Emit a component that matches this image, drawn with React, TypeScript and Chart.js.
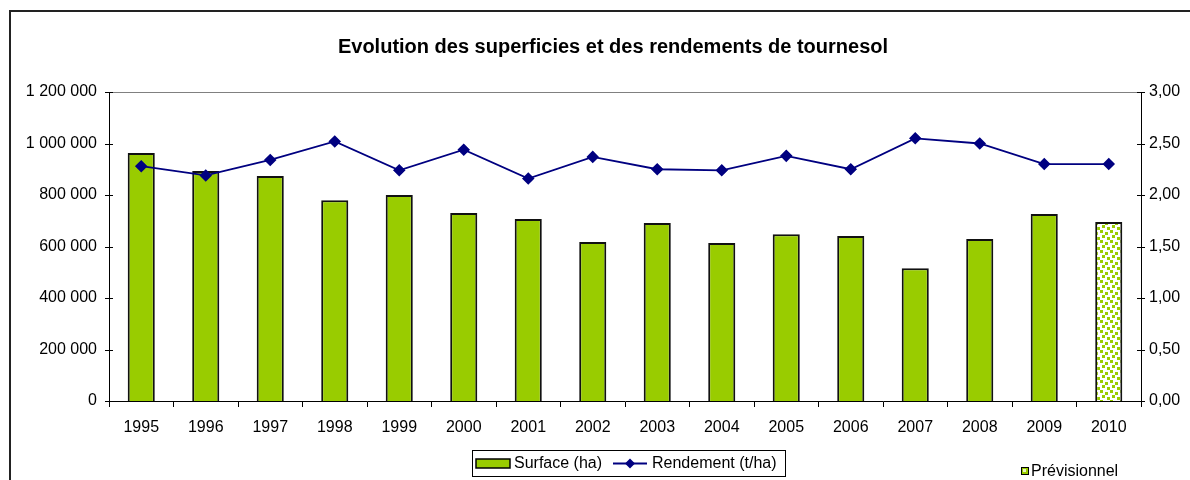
import React, { useEffect, useRef } from "react";
import { Chart, registerables } from "chart.js";

Chart.register(...registerables);

const years = ["1995","1996","1997","1998","1999","2000","2001","2002","2003","2004","2005","2006","2007","2008","2009","2010"];
const surface = [963000, 893000, 874000, 780000, 800000, 730000, 707000, 617000, 691000, 614000, 648000, 641000, 516000, 629000, 726000, 695000];
const rendement = [2.28, 2.19, 2.34, 2.52, 2.24, 2.44, 2.16, 2.37, 2.25, 2.24, 2.38, 2.25, 2.55, 2.50, 2.30, 2.30];
const forecastIndex = 15;
const title = "Evolution des superficies et des rendements de tournesol";
const legendSurface = "Surface (ha)";
const legendRendement = "Rendement (t/ha)";
const legendForecast = "Prévisionnel";

const FONT = "'Liberation Sans', Arial, sans-serif";
const GREEN = "#99cc00";
const NAVY = "#000080";

function makePattern(): CanvasPattern | string {
  const c = document.createElement("canvas");
  c.width = 10;
  c.height = 10;
  const g = c.getContext("2d");
  if (!g) return GREEN;
  g.fillStyle = "#ffffff";
  g.fillRect(0, 0, 10, 10);
  g.fillStyle = GREEN;
  g.fillRect(0, 0, 3, 3);
  g.fillRect(5, 2, 3, 3);
  g.fillRect(2, 5, 3, 3);
  g.fillRect(7, 7, 3, 3);
  const ctx = document.createElement("canvas").getContext("2d");
  return ctx ? (ctx.createPattern(c, "repeat") as CanvasPattern) : GREEN;
}

const fmtThousands = (v: number) =>
  String(Math.round(v)).replace(/\B(?=(\d{3})+(?!\d))/g, " ");

export default function App() {
  const ref = useRef<HTMLCanvasElement | null>(null);

  useEffect(() => {
    if (!ref.current) return;
    const pattern = makePattern();
    const barColors = surface.map((_, i) => (i === forecastIndex ? pattern : GREEN));

    const decor = {
      id: "decor",
      afterDraw(chart: any) {
        const ctx = chart.ctx as CanvasRenderingContext2D;
        const ca = chart.chartArea;
        const yL = chart.scales.y;
        const yR = chart.scales.y1;
        ctx.save();
        ctx.strokeStyle = "#808080";
        ctx.lineWidth = 1;
        ctx.beginPath();
        ctx.moveTo(ca.left, Math.round(ca.top) + 0.5);
        ctx.lineTo(ca.right, Math.round(ca.top) + 0.5);
        ctx.stroke();
        ctx.strokeStyle = "#000";
        yL.ticks.forEach((t: any) => {
          const y = Math.round(yL.getPixelForValue(t.value)) + 0.5;
          ctx.beginPath();
          ctx.moveTo(ca.left - 4, y);
          ctx.lineTo(ca.left + 4, y);
          ctx.stroke();
        });
        yR.ticks.forEach((t: any) => {
          const y = Math.round(yR.getPixelForValue(t.value)) + 0.5;
          ctx.beginPath();
          ctx.moveTo(ca.right - 4, y);
          ctx.lineTo(ca.right + 4, y);
          ctx.stroke();
        });
        // title
        ctx.fillStyle = "#000";
        ctx.font = `bold 20px ${FONT}`;
        ctx.textAlign = "center";
        ctx.textBaseline = "middle";
        ctx.fillText(title, 613, 47);
        // legend box
        ctx.font = `16px ${FONT}`;
        ctx.textAlign = "left";
        ctx.strokeStyle = "#000";
        ctx.lineWidth = 1;
        ctx.strokeRect(472.5, 450.5, 313, 26);
        ctx.fillStyle = GREEN;
        ctx.fillRect(476, 459, 34, 9);
        ctx.lineWidth = 1.5;
        ctx.strokeRect(476, 459, 34, 9);
        ctx.fillStyle = "#000";
        ctx.fillText(legendSurface, 514, 464);
        ctx.strokeStyle = NAVY;
        ctx.lineWidth = 1.8;
        ctx.beginPath();
        ctx.moveTo(613, 463.5);
        ctx.lineTo(647, 463.5);
        ctx.stroke();
        ctx.fillStyle = NAVY;
        ctx.beginPath();
        ctx.moveTo(630, 458.5);
        ctx.lineTo(635, 463.5);
        ctx.lineTo(630, 468.5);
        ctx.lineTo(625, 463.5);
        ctx.closePath();
        ctx.fill();
        ctx.fillStyle = "#000";
        ctx.fillText(legendRendement, 652, 464);
        // forecast legend
        ctx.fillStyle = GREEN;
        ctx.fillRect(1021, 467, 8, 8);
        ctx.fillStyle = "#e8f5c0";
        ctx.fillRect(1023, 469, 3, 3);
        ctx.strokeStyle = "#000";
        ctx.lineWidth = 1;
        ctx.strokeRect(1021.5, 467.5, 7, 7);
        ctx.fillStyle = "#000";
        ctx.fillText(legendForecast, 1031, 472);
        ctx.restore();
      },
    };

    const chart = new Chart(ref.current, {
      type: "bar",
      data: {
        labels: years,
        datasets: [
          {
            type: "line",
            label: legendRendement,
            data: rendement,
            yAxisID: "y1",
            borderColor: NAVY,
            backgroundColor: NAVY,
            borderWidth: 1.8,
            pointStyle: "rectRot",
            pointRadius: 5,
            pointBackgroundColor: NAVY,
            pointBorderColor: NAVY,
            tension: 0,
            order: 0,
          } as any,
          {
            type: "bar",
            label: legendSurface,
            data: surface,
            yAxisID: "y",
            backgroundColor: barColors as any,
            borderColor: "#111",
            borderWidth: 2,
            barPercentage: 0.42,
            categoryPercentage: 1,
            order: 1,
          } as any,
        ],
      },
      options: {
        responsive: false,
        animation: false,
        layout: { padding: { top: 92, left: 0, right: 0, bottom: 0 } },
        plugins: {
          legend: { display: false },
          title: { display: false },
          tooltip: { enabled: false },
        },
        scales: {
          x: {
            offset: true,
            grid: {
              display: true,
              offset: true,
              drawOnChartArea: false,
              drawTicks: true,
              tickLength: 6,
              color: "#000",
            },
            border: { display: true, color: "#000", width: 1 },
            ticks: {
              color: "#000",
              font: { family: FONT, size: 16 },
              padding: 11,
              maxRotation: 0,
            },
            afterFit: (s: any) => {
              s.height = 79;
            },
          },
          y: {
            position: "left",
            min: 0,
            max: 1200000,
            ticks: {
              stepSize: 200000,
              color: "#000",
              font: { family: FONT, size: 16 },
              padding: 4,
              callback: (v: any) => fmtThousands(Number(v)),
            },
            grid: { display: false },
            border: { display: true, color: "#000", width: 1 },
            afterFit: (s: any) => {
              s.width = 109;
            },
          },
          y1: {
            position: "right",
            min: 0,
            max: 3,
            ticks: {
              stepSize: 0.5,
              color: "#000",
              font: { family: FONT, size: 16 },
              padding: 0,
              callback: (v: any) => Number(v).toFixed(2).replace(".", ","),
            },
            grid: { display: false },
            border: { display: true, color: "#000", width: 1 },
            afterFit: (s: any) => {
              s.width = 49;
            },
          },
        },
      },
      plugins: [decor],
    });
    return () => chart.destroy();
  }, []);

  return (
    <div
      style={{
        position: "fixed",
        left: 0,
        top: 0,
        width: 1190,
        height: 480,
        overflow: "hidden",
        background: "#fff",
      }}
    >
      <div
        style={{
          position: "absolute",
          left: 9,
          top: 10,
          width: 1220,
          height: 520,
          border: "2px solid #222",
          boxSizing: "border-box",
        }}
      />
      <canvas
        ref={ref}
        width={1190}
        height={480}
        style={{ position: "absolute", left: 0, top: 0, width: 1190, height: 480 }}
      />
    </div>
  );
}
